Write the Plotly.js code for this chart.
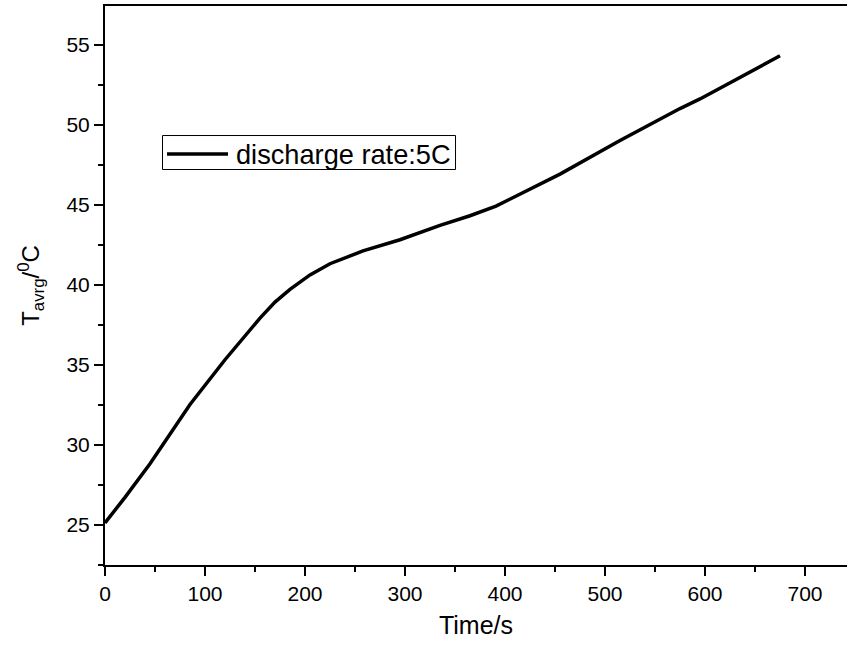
<!DOCTYPE html>
<html>
<head>
<meta charset="utf-8">
<script src="https://cdn.plot.ly/plotly-3.0.1.min.js"></script>
<style>html,body{margin:0;padding:0;background:#fff;}#chart{width:847px;height:646px;}</style>
</head>
<body>
<div id="chart"></div>
<script>
// Data
const timeS = [0, 20, 45, 85, 120, 155, 170, 185, 205, 225, 258, 295, 335, 365, 391, 420, 455, 515, 575, 595, 625, 675];
const tempC = [25.1, 26.7, 28.8, 32.5, 35.3, 37.9, 38.9, 39.7, 40.6, 41.3, 42.1, 42.8, 43.7, 44.3, 44.9, 45.8, 46.9, 49.0, 51.0, 51.6, 52.6, 54.3];
const seriesName = 'discharge rate:5C';
const xTitle = 'Time/s';
const yTitle = 'T<sub>avrg</sub>/<sup>0</sup>C';

const font = 'Liberation Sans, Arial, sans-serif';
const lineWidth = 3.5;

const trace = {
  x: timeS, y: tempC, type: 'scatter', mode: 'lines', name: seriesName,
  line: {color: '#000', width: lineWidth, shape: 'linear'}
};

// legend box (paper coordinates), drawn as a framed key
const legendBox = {x0: 0.0775, x1: 0.4724, y0: 0.7075, y1: 0.7683};
const legendKey = {x0: 0.0836, x1: 0.1658, y: 0.7352};

const layout = {
  width: 847, height: 646,
  margin: {l: 105, r: 0, t: 6, b: 81},
  paper_bgcolor: '#fff', plot_bgcolor: '#fff',
  font: {family: font, size: 21, color: '#000'},
  showlegend: false,
  shapes: [
    {type: 'rect', xref: 'paper', yref: 'paper',
     x0: legendBox.x0, x1: legendBox.x1, y0: legendBox.y0, y1: legendBox.y1,
     line: {color: '#000', width: 1}, fillcolor: '#fff'},
    {type: 'line', xref: 'paper', yref: 'paper',
     x0: legendKey.x0, x1: legendKey.x1, y0: legendKey.y, y1: legendKey.y,
     line: {color: trace.line.color, width: lineWidth}}
  ],
  annotations: [
    {xref: 'paper', yref: 'paper', x: 0.1739, y: 0.735, xanchor: 'left', yanchor: 'middle',
     text: seriesName, showarrow: false, font: {family: font, size: 27.2, color: '#000'}}
  ],
  xaxis: {
    range: [0, 742], dtick: 100, tick0: 0,
    showgrid: false, zeroline: false,
    showline: true, linecolor: '#000', linewidth: 2, mirror: true,
    ticks: 'outside', ticklen: 9, tickwidth: 2, tickcolor: '#000',
    minor: {dtick: 50, ticks: 'outside', ticklen: 5, tickwidth: 2, tickcolor: '#000'},
    tickfont: {family: font, size: 21},
    title: {text: xTitle, font: {family: font, size: 25}, standoff: 12}
  },
  yaxis: {
    range: [22.47, 57.41], dtick: 5, tick0: 25,
    showgrid: false, zeroline: false,
    showline: true, linecolor: '#000', linewidth: 2, mirror: false,
    ticks: 'outside', ticklen: 9, tickwidth: 2, tickcolor: '#000',
    minor: {dtick: 2.5, ticks: 'outside', ticklen: 5, tickwidth: 2, tickcolor: '#000'},
    tickfont: {family: font, size: 21},
    title: {text: yTitle, font: {family: font, size: 24}, standoff: 20}
  }
};

Plotly.newPlot('chart', [trace], layout, {displayModeBar: false, staticPlot: true});
</script>
</body>
</html>
